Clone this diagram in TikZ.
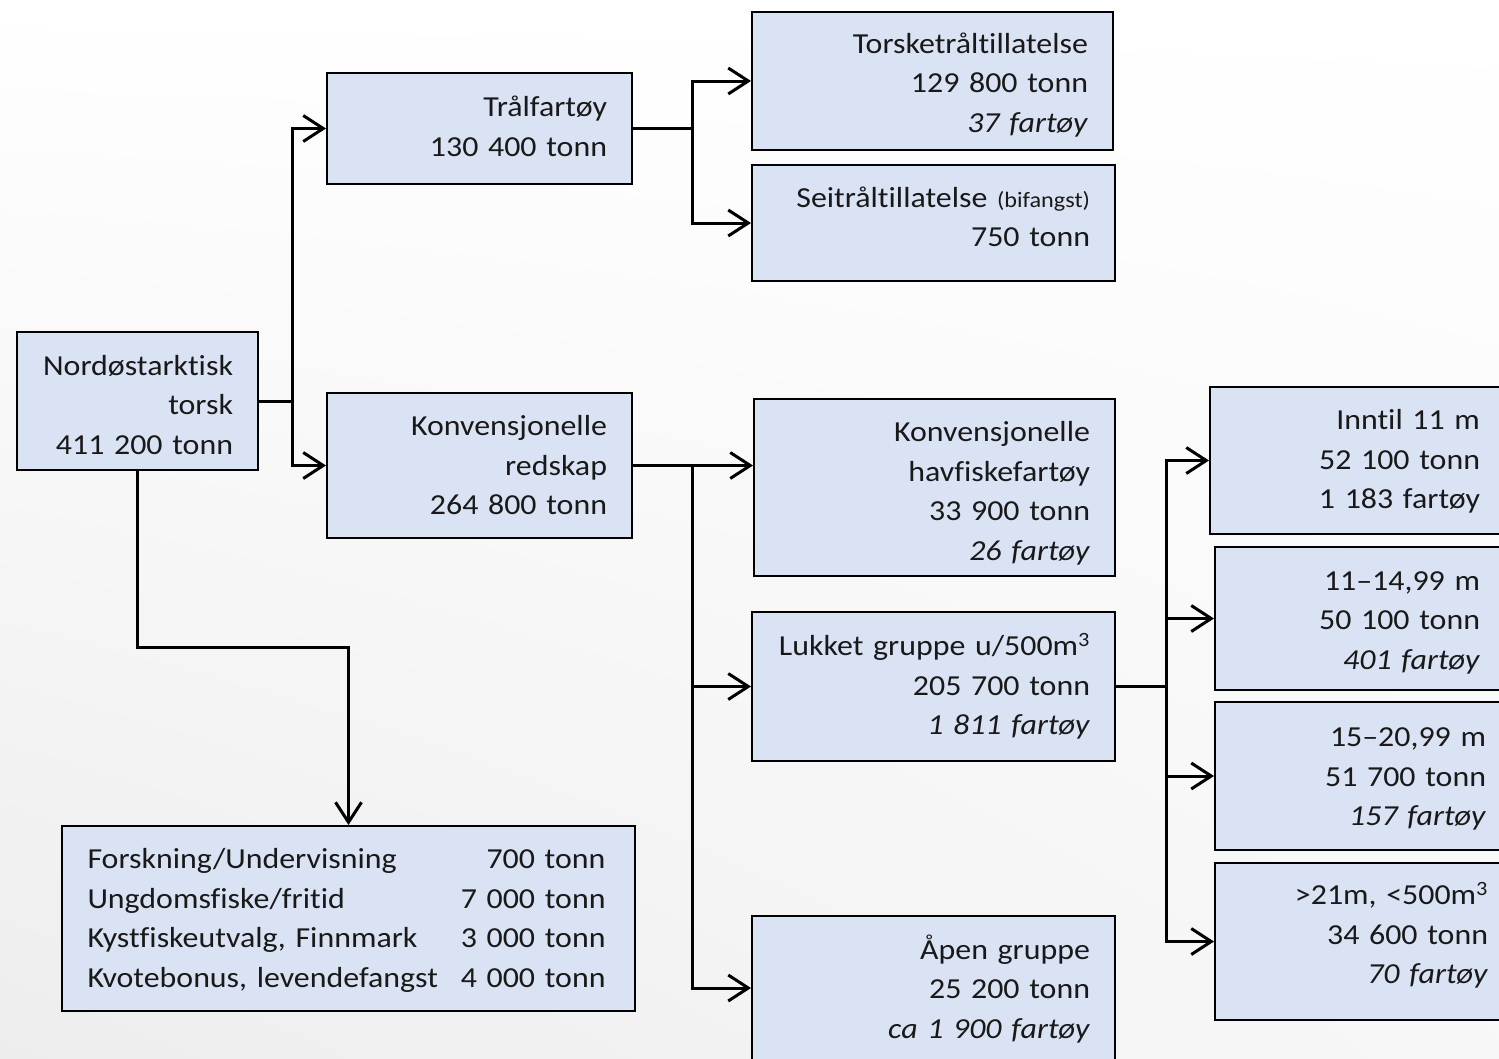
\documentclass[tikz,border=0pt]{standalone}
\usepackage{fontspec}
\setmainfont{Carlito}[FakeStretch=1.1,Ligatures=NoCommon,WordSpace=0.8]
\usetikzlibrary{arrows.meta,shadings}
\definecolor{boxfill}{RGB}{218,227,243}
\definecolor{txt}{RGB}{25,25,25}
\tikzset{
  box/.style={draw=black, line width=2pt, fill=boxfill, rectangle, inner sep=0pt},
  lbl/.style={inner sep=0pt, align=right, text=txt, font=\fontsize{29}{39.5}\selectfont},
  arr/.style={line width=3pt, -{Straight Barb[length=20pt,width=26pt,line width=3pt]}},
  conn/.style={line width=3pt},
}
\begin{document}
\begin{tikzpicture}[x=1pt,y=-1pt]
\useasboundingbox (0,0) rectangle (1499,1058);
\shade[upper left=white, upper right=white, lower left=black!7, lower right=black!3] (0,0) rectangle (1499,1058);

% boxes
\node[box, minimum width=241pt, minimum height=138pt] (A) at (137.5,401) {};
\node[box, minimum width=305pt, minimum height=111pt] (B) at (479.5,128.5) {};
\node[box, minimum width=305pt, minimum height=145pt] (C) at (479.5,465.5) {};
\node[box, minimum width=361pt, minimum height=138pt] (D) at (932.5,81) {};
\node[box, minimum width=363pt, minimum height=116pt] (E) at (933.5,223) {};
\node[box, minimum width=361pt, minimum height=177pt] (F) at (934.5,487.5) {};
\node[box, minimum width=363pt, minimum height=149pt] (G) at (933.5,686.5) {};
\node[box, minimum width=363pt, minimum height=144pt] (H) at (933.5,988) {};
\node[box, minimum width=296pt, minimum height=147pt] (I) at (1358,460.5) {};
\node[box, minimum width=291pt, minimum height=143pt] (J) at (1360.5,618.5) {};
\node[box, minimum width=296pt, minimum height=148pt] (K) at (1363,776) {};
\node[box, minimum width=298pt, minimum height=157pt] (L) at (1364,941.5) {};
\node[box, minimum width=573pt, minimum height=185pt] (M) at (348.5,918.5) {};

% texts
\node[lbl, text width=191pt] (At) at (137.5,405) {Nordøstarktisk\\torsk\\411 200 tonn};
\node[lbl, text width=255pt] (Bt) at (479.5,126.5) {Trålfartøy\\130 400 tonn};
\node[lbl, text width=255pt] (Ct) at (479.5,465.5) {Konvensjonelle\\redskap\\264 800 tonn};
\node[lbl, text width=311pt] (Dt) at (932.5,85) {Torsketråltillatelse\\129 800 tonn\\\textit{37 fartøy}};
\node[lbl, text width=313pt] (Et) at (933.5,217) {Seitråltillatelse {\fontsize{22}{30}\selectfont(bifangst)}\\750 tonn};
\node[lbl, text width=311pt] (Ft) at (934.5,493.5) {Konvensjonelle\\havfiskefartøy\\33 900 tonn\\\textit{26 fartøy}};
\node[lbl, text width=313pt] (Gt) at (933.5,686.5) {Lukket gruppe u/500m\textsuperscript{3}\\205 700 tonn\\\textit{1 811 fartøy}};
\node[lbl, text width=313pt] (Ht) at (933.5,989) {Åpen gruppe\\25 200 tonn\\\textit{ca 1 900 fartøy}};
\node[lbl, text width=244pt] (It) at (1358,461.5) {Inntil 11 m\\52 100 tonn\\1 183 fartøy};
\node[lbl, text width=239pt] (Jt) at (1360.5,622.5) {11–14,99 m\\50 100 tonn\\\textit{401 fartøy}};
\node[lbl, text width=246pt] (Kt) at (1363,779) {15–20,99 m\\51 700 tonn\\\textit{157 fartøy}};
\node[lbl, text width=248pt] (Lt) at (1364,935.5) {>21m, <500m\textsuperscript{3}\\34 600 tonn\\\textit{70 fartøy}};
\node[lbl, align=left, text width=518pt] (Mt) at (346.5,920.5)
  {Forskning/Undervisning\hfill 700 tonn\\Ungdomsfiske/fritid\hfill 7 000 tonn\\Kystfiskeutvalg, Finnmark\hfill 3 000 tonn\\Kvotebonus, levendefangst\hfill 4 000 tonn};

\coordinate (j1) at (292,401);
\coordinate (j2) at (137.5,647);
\coordinate (j3) at (692,128.5);
\coordinate (j4) at (692,465.5);
\coordinate (j5) at (1166,686.5);

\draw[conn] (A.east) -- (j1);
\draw[arr] (j1) |- (B.west);
\draw[arr] (j1) |- (C.west);
\draw[arr] (A.south) -- (j2) -| (M.north);
\draw[conn] (B.east) -- (j3);
\draw[arr] (j3) |- (D.west);
\draw[arr] (j3) |- (E.west);
\draw[arr] (C.east) -- (C.east -| F.west);
\draw[arr] (j4) |- (G.west);
\draw[arr] (j4) |- (H.west);
\draw[conn] (G.east) -- (j5);
\draw[arr] (j5) |- (I.west);
\draw[arr] (j5) |- (J.west);
\draw[arr] (j5) |- (K.west);
\draw[arr] (j5) |- (L.west);
\end{tikzpicture}
\end{document}
